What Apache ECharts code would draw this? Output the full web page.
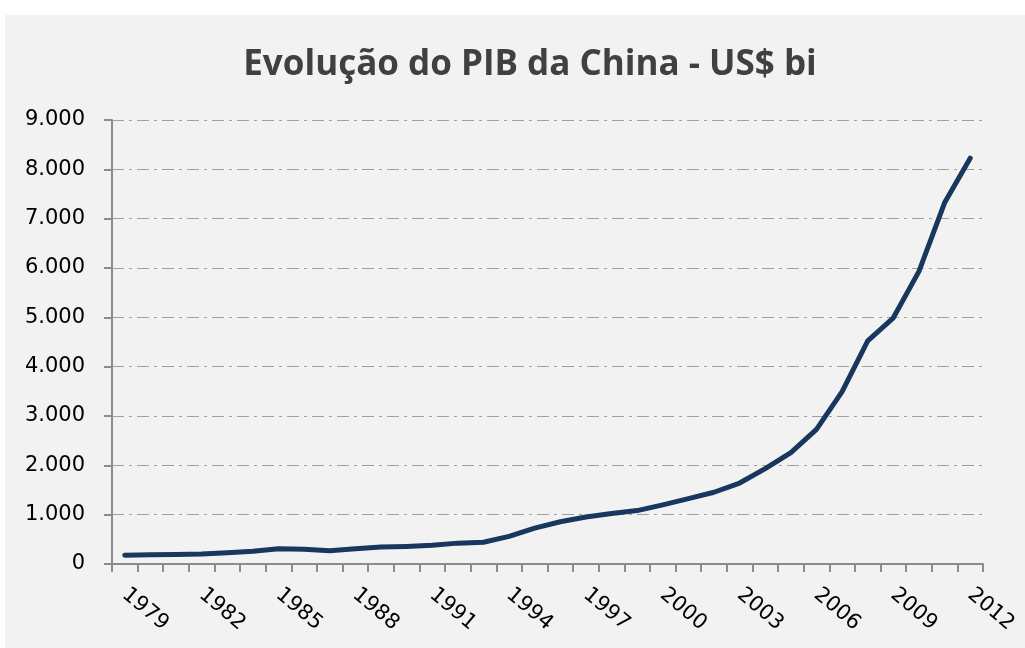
<!DOCTYPE html>
<html>
<head>
<meta charset="utf-8">
<title>Evolução do PIB da China</title>
<script src="https://cdn.jsdelivr.net/npm/echarts@6/dist/echarts.min.js"></script>
<style>
  html, body { margin: 0; padding: 0; background: #fff; }
  .panel { position: absolute; left: 5px; top: 15px; right: 0; bottom: 0; background: #f2f2f2; }
  #chart { position: absolute; left: 0; top: 0; width: 1025px; height: 648px; }
</style>
</head>
<body>
<div class="panel"></div>
<div id="chart"></div>
<script>
// anos 1979 - 2012
const anos = [];
for (let a = 1979; a <= 2012; a++) anos.push(String(a));

// PIB em US$ bilhões
const pib = [
  177, 189, 194, 203, 227, 257, 307, 298, 270, 310,
  344, 357, 380, 423, 441, 559, 728, 856, 953, 1024,
  1083, 1199, 1325, 1454, 1641, 1932, 2257, 2730, 3494, 4522,
  4991, 5931, 7322, 8227
];

const yMax = 9000;
const yStep = 1000;

const fmtMilhar = v => String(v).replace(/\B(?=(\d{3})+(?!\d))/g, '.');

const myChart = echarts.init(document.getElementById('chart'));

const options = {
  backgroundColor: 'transparent',
  animation: false,
  title: {
    text: 'Evolução do PIB da China - US$ bi',
    left: 525,
    top: 43,
    textAlign: 'center',
    textStyle: {
      fontFamily: 'Open Sans',
      fontWeight: 'bold',
      fontSize: 35,
      color: '#404040'
    }
  },
  grid: {
    left: 112,
    right: 42,
    top: 120,
    bottom: 84
  },
  xAxis: {
    type: 'category',
    data: anos,
    boundaryGap: true,
    axisLine: { lineStyle: { color: '#8c8c8c', width: 2 } },
    axisTick: {
      show: true,
      alignWithLabel: false,
      interval: 0,
      length: 8,
      lineStyle: { color: '#8c8c8c', width: 2 }
    },
    axisLabel: {
      interval: 2,
      rotate: -40,
      margin: 28,
      fontFamily: 'DejaVu Sans',
      fontSize: 21,
      color: '#000'
    },
    splitLine: { show: false }
  },
  yAxis: {
    type: 'value',
    min: 0,
    max: yMax,
    interval: yStep,
    axisLine: { show: true, lineStyle: { color: '#8c8c8c', width: 2 } },
    axisTick: { show: true, length: 8, lineStyle: { color: '#8c8c8c', width: 2 } },
    axisLabel: {
      margin: 27,
      fontFamily: 'DejaVu Sans',
      fontSize: 21,
      color: '#000',
      formatter: fmtMilhar
    },
    splitLine: {
      lineStyle: { color: '#a0a0a0', width: 1.2, type: [12, 5, 3, 5] }
    }
  },
  series: [
    {
      name: 'PIB',
      type: 'line',
      data: pib,
      symbol: 'none',
      smooth: false,
      lineStyle: { color: '#17375e', width: 5, cap: 'round', join: 'round' },
      itemStyle: { color: '#17375e' }
    }
  ]
};

myChart.setOption(options);
</script>
</body>
</html>
